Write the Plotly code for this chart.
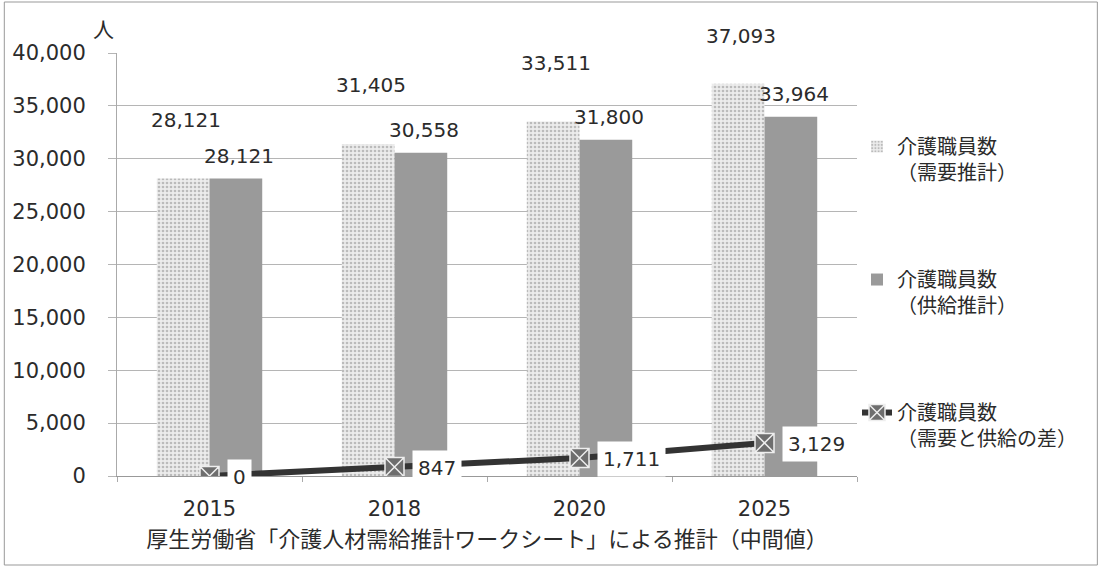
import plotly.graph_objects as go

# data
years = ["2015", "2018", "2020", "2025"]
demand = [28121, 31405, 33511, 37093]
supply = [28121, 30558, 31800, 33964]
gap = [0, 847, 1711, 3129]

name_demand = "介護職員数<br>（需要推計）"
name_supply = "介護職員数<br>（供給推計）"
name_gap = "介護職員数<br>（需要と供給の差）"
x_title = "厚生労働省「介護人材需給推計ワークシート」による推計（中間値）"

font = "DejaVu Sans, Noto Sans CJK JP, sans-serif"
jp = "Noto Sans CJK JP, sans-serif"
txt = "#2b2b2b"

fig = go.Figure()
fig.add_trace(go.Bar(
    x=years, y=demand, name=name_demand, legendgroup="a",
    marker=dict(color="#f2f2f2", line=dict(width=0),
                pattern=dict(shape=".", fgcolor="#8a8a8a", bgcolor="#ececec", size=4, solidity=0.35)),
))
fig.add_trace(go.Bar(
    x=years, y=supply, name=name_supply, legendgroup="b",
    marker=dict(color="#9a9a9a", line=dict(width=0)),
))
fig.add_trace(go.Scatter(
    x=years, y=gap, name=name_gap, legendgroup="c", mode="lines+markers",
    line=dict(color="#333333", width=6),
    marker=dict(symbol="square-x", size=19, color="#6e6e6e", line=dict(color="#eeeeee", width=1.5)),
))

# annotation x uses the category index on a category axis
demand_lift = [59, 59, 59, 48]
ann = []
for i, v in enumerate(demand):
    ann.append(dict(x=i, y=v, text=f"{v:,}", showarrow=False, xshift=-24, yshift=demand_lift[i],
                    font=dict(size=20, color=txt, family=font)))
for i, v in enumerate(supply):
    ann.append(dict(x=i, y=v, text=f"{v:,}", showarrow=False, xshift=29, yshift=23,
                    font=dict(size=20, color=txt, family=font)))
for i, v in enumerate(gap):
    ann.append(dict(x=i, y=v, text=f"{v:,}", showarrow=False, xanchor="left", xshift=17, yshift=-1,
                    bgcolor="white", borderpad=5,
                    font=dict(size=20, color=txt, family=font)))
ann.append(dict(xref="paper", yref="paper", x=-0.018, y=1 + 25 / 423, text="人", showarrow=False,
                xanchor="center", yanchor="middle", font=dict(size=21, color=txt, family=jp)))

fig.update_layout(
    width=1100, height=567,
    margin=dict(l=115, r=243, t=53, b=91),
    paper_bgcolor="white", plot_bgcolor="white",
    font=dict(family=font, color=txt, size=20),
    barmode="group", bargap=0.43, bargroupgap=0,
    annotations=ann,
    legend=dict(x=1.0, xanchor="left", y=0.825, yanchor="top", valign="top",
                font=dict(size=20, color=txt, family=jp), maxheight=1,
                tracegroupgap=78, itemwidth=30, traceorder="grouped"),
    xaxis=dict(type="category", range=[-0.5, 3.5],
               title=dict(text=x_title, font=dict(size=22, color=txt, family=jp), standoff=10),
               tickfont=dict(size=21, color=txt), showline=True, linecolor="#999999",
               ticks="outside", tickson="boundaries", ticklen=5, tickcolor="#aaaaaa",
               ticklabelstandoff=14, showgrid=False),
    yaxis=dict(range=[0, 40000], dtick=5000, tickformat=",", tickfont=dict(size=21, color=txt),
               showgrid=True, gridcolor="#b5b5b5", gridwidth=1, zeroline=False,
               showline=True, linecolor="#aaaaaa", ticks="outside", ticklen=8,
               tickcolor="#b5b5b5", ticklabelstandoff=18),
    shapes=[dict(type="rect", xref="paper", yref="paper",
                 x0=-113 / 742, x1=1 + 241 / 742, y0=-89 / 423, y1=1 + 51 / 423,
                 line=dict(color="#999999", width=1))],
)

fig.write_html("out.html", post_script="document.body.style.margin='0';",
               config={"displayModeBar": False})
